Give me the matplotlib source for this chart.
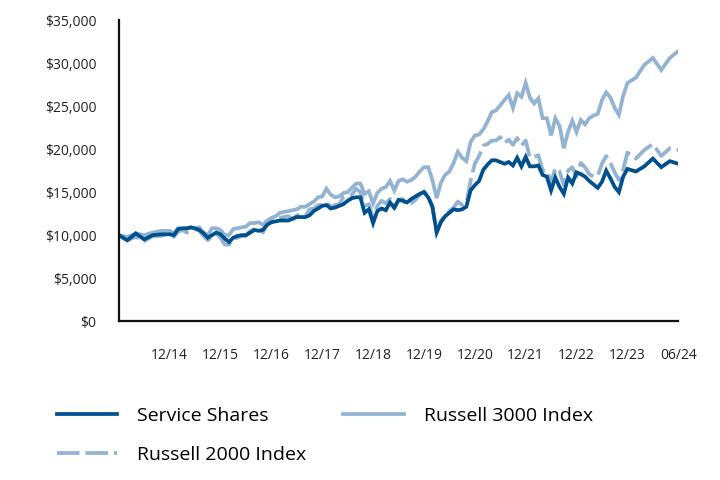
import matplotlib.pyplot as plt
import numpy as np
from matplotlib.ticker import FuncFormatter, FixedLocator

plt.rcParams['font.family'] = ['Open Sans', 'DejaVu Sans']

# monthly values, 06/14 .. 06/24 (growth of $10,000, in thousands)
service_shares = [
    10.0, 9.4, 10.2, 9.5, 10.0, 10.1, 10.1,
    10.0, 10.7, 10.8, 10.8, 10.9, 10.8, 10.6, 10.2, 9.7, 10.0, 10.3, 10.1,
    9.6, 9.2, 9.7, 9.9, 10.0, 10.0, 10.3, 10.6, 10.5, 10.6, 11.2, 11.5,
    11.6, 11.7, 11.7, 11.7, 11.9, 12.1, 12.1, 12.1, 12.3, 12.8, 13.1, 13.4,
    13.5, 13.1, 13.2, 13.4, 13.6, 14.0, 14.3, 14.4, 14.4, 12.6, 13.0, 11.4,
    12.8, 13.1, 12.9, 13.8, 13.2, 14.1, 14.0, 13.8, 14.2, 14.5, 14.8, 15.0,
    14.4, 13.3, 10.3, 11.5, 12.2, 12.6, 13.0, 12.9, 13.0, 13.3, 15.2, 15.8,
    16.3, 17.6, 18.2, 18.7, 18.7, 18.5, 18.3, 18.5, 18.1, 19.0, 18.0, 19.1,
    18.0, 18.0, 18.1, 17.0, 16.8, 15.2, 16.7, 15.6, 14.8, 16.7, 16.0, 17.3,
    17.1, 16.8, 16.3, 15.9, 15.5, 16.2, 17.5, 16.6, 15.6, 15.0, 16.8, 17.7,
    17.4, 18.0, 18.9, 17.9, 18.6, 18.3,
]
russell_3000 = [
    10.0, 9.8, 10.2, 10.0, 10.3, 10.5, 10.5,
    10.2, 10.8, 10.7, 10.7, 10.9, 10.7, 10.9, 10.3, 10.0, 10.8, 10.8, 10.6,
    10.0, 10.0, 10.7, 10.8, 10.9, 11.0, 11.4, 11.4, 11.5, 11.2, 11.7, 12.0,
    12.2, 12.6, 12.7, 12.8, 12.9, 13.0, 13.3, 13.3, 13.6, 13.9, 14.4, 14.5,
    15.4, 14.7, 14.4, 14.5, 14.9, 15.0, 15.5, 16.0, 16.0, 14.8, 15.1, 13.7,
    14.9, 15.4, 15.6, 16.3, 15.2, 16.3, 16.5, 16.2, 16.4, 16.8, 17.4, 17.9,
    17.9, 16.4, 14.3, 16.1, 17.0, 17.4, 18.4, 19.7, 19.0, 18.6, 20.8, 21.6,
    21.7, 22.3, 23.2, 24.3, 24.5, 25.1, 25.7, 26.3, 24.8, 26.5, 26.1, 27.7,
    26.0, 25.3, 25.9, 23.6, 23.6, 21.6, 23.6, 22.7, 20.1, 22.0, 23.3, 22.0,
    23.4, 22.9, 23.6, 23.9, 24.1, 25.7, 26.6, 26.0, 24.8, 24.0, 26.2, 27.7,
    28.3, 29.8, 30.6, 29.2, 30.6, 31.4,
]
russell_2000 = [
    10.0, 9.4, 9.8, 9.3, 9.9, 9.9, 10.2,
    9.8, 10.4, 10.6, 10.3, 10.5, 10.7, 10.5, 9.9, 9.4, 9.9, 10.2, 9.7,
    8.9, 8.9, 9.6, 9.7, 9.9, 9.9, 10.5, 10.7, 10.8, 10.3, 11.4, 11.8,
    11.8, 12.0, 12.1, 12.2, 11.9, 12.3, 12.4, 12.2, 13.0, 13.1, 13.5, 13.5,
    13.8, 13.3, 13.5, 13.6, 14.4, 14.5, 14.7, 15.4, 15.0, 13.4, 13.6, 12.0,
    13.4, 14.0, 13.7, 14.2, 13.1, 14.1, 14.2, 13.5, 13.7, 14.1, 14.7, 15.1,
    14.6, 13.3, 10.3, 11.7, 12.3, 12.8, 13.2, 13.9, 13.5, 13.7, 16.3, 18.3,
    19.2, 20.4, 20.6, 21.0, 21.0, 21.4, 20.7, 21.1, 20.5, 21.3, 20.4, 21.0,
    19.0, 19.1, 19.3, 17.5, 17.5, 16.1, 17.8, 17.4, 15.8, 17.5, 17.9, 16.8,
    18.4, 17.9, 17.1, 16.8, 16.9, 18.3, 19.2, 18.4, 17.3, 16.4, 17.6, 19.6,
    18.9, 19.9, 20.6, 19.2, 20.1, 19.9,
]
tick_months = [6, 18, 30, 42, 54, 66, 78, 90, 102, 114, 120]
tick_labels = ['12/14', '12/15', '12/16', '12/17', '12/18', '12/19',
               '12/20', '12/21', '12/22', '12/23', '06/24']

months = np.arange(len(service_shares))
ss = np.array(service_shares) * 1000
r3 = np.array(russell_3000) * 1000
r2 = np.array(russell_2000) * 1000

dark = '#00508e'
light = '#93b3d3'

# the first and last half-year are drawn twice as wide as the others
src = [0, 6, 114, 120]
dst = [0, 12, 120, 132]


def fwd(x):
    return np.interp(x, src, dst, left=np.nan, right=np.nan)


def inv(x):
    return np.interp(x, dst, src, left=np.nan, right=np.nan)


fig = plt.figure(figsize=(7.2, 4.8), dpi=100)
ax = fig.add_axes([0.165, 0.331, 0.777, 0.627])
ax.set_xscale('function', functions=(fwd, inv))

ax.plot(months, r3, color=light, lw=2.7, solid_joinstyle='miter', label='Russell 3000 Index')
ax.plot(months, r2, color=light, lw=2.7, dashes=(6, 1.6), label='Russell 2000 Index')
ax.plot(months, ss, color=dark, lw=2.7, solid_joinstyle='miter', label='Service Shares')

ax.set_xlim(0, 120)
ax.set_ylim(0, 35000)
ax.xaxis.set_major_locator(FixedLocator(tick_months))
ax.set_xticklabels(tick_labels)
ax.xaxis.set_minor_locator(FixedLocator([]))
ax.set_yticks(np.arange(0, 35001, 5000))
ax.yaxis.set_major_formatter(FuncFormatter(lambda v, p: '${:,.0f}'.format(v)))
ax.tick_params(axis='both', length=0, labelsize=10, colors='#222222')
ax.tick_params(axis='x', pad=19)
ax.tick_params(axis='y', pad=16)
for s in ['top', 'right']:
    ax.spines[s].set_visible(False)
for s in ['left', 'bottom']:
    ax.spines[s].set_linewidth(1.6)
    ax.spines[s].set_color('#111111')

h = {l.get_label(): l for l in ax.get_lines()}
order = ['Service Shares', 'Russell 2000 Index', 'Russell 3000 Index']
fig.legend([h[k] for k in order], order, loc='upper left',
           bbox_to_anchor=(0.079, 0.153), ncol=2, frameon=False,
           fontsize=14, handlelength=3.1, handletextpad=1.03,
           columnspacing=1.9, labelspacing=1.1, borderpad=0, borderaxespad=0)

fig.savefig('out.png', dpi=100)
